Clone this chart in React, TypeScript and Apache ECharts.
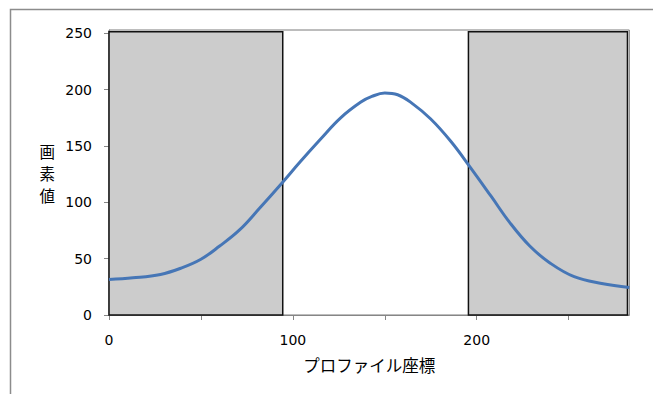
import React, { useEffect, useRef } from "react";
import * as echarts from "echarts";

const xCoords = [0, 13, 28, 39, 50, 60, 71, 82, 94, 104, 115, 126, 137, 143, 150, 157, 164, 175, 186, 197, 208, 218, 229, 240, 253, 268, 283];
const pixelValues = [31.5, 33, 36, 41.5, 49.5, 61, 75.5, 95, 117, 136, 156, 175, 189, 194, 197, 195.5, 189, 174, 154, 130, 105, 82, 61, 46, 34, 28, 24.5];
const bandStarts = [0, 195.5];
const bandEnds = [94.5, 282];
const bandTop = 251.5;
const xTickLabels = ["0", "100", "200"];
const yTickLabels = ["0", "50", "100", "150", "200", "250"];
const yNameChars = ["画", "素", "値"];

export default function App() {
  const ref = useRef<HTMLDivElement>(null);
  useEffect(() => {
    if (!ref.current) return;
    const chart = echarts.init(ref.current, undefined, { renderer: "svg" });
    const jp = "'Noto Sans CJK JP', 'Noto Sans', sans-serif";
    const num = "'DejaVu Sans', sans-serif";
    chart.setOption({
      animation: false,
      backgroundColor: "#fff",
      textStyle: { fontFamily: jp },
      graphic: [
        {
          type: "rect",
          shape: { x: 10.5, y: 9.5, width: 700, height: 500 },
          style: { fill: "none", stroke: "#8c8c8c", lineWidth: 1.5 },
          silent: true,
          z: -10,
        },
      ],
      grid: {
        left: 109,
        top: 30,
        right: 23.7,
        bottom: 79,
        show: true,
        borderColor: "#7a7a7a",
        borderWidth: 1,
      },
      xAxis: {
        type: "value",
        min: 0,
        max: 283,
        interval: 50,
        name: "プロファイル座標",
        nameLocation: "middle",
        nameGap: 42,
        nameTextStyle: { fontSize: 16.5, color: "#000", fontFamily: jp },
        axisLine: { show: true, lineStyle: { color: "#868686", width: 1 } },
        axisTick: { show: true, length: 5, lineStyle: { color: "#868686" } },
        splitLine: { show: false },
        axisLabel: {
          margin: 18,
          fontSize: 14,
          color: "#000",
          fontFamily: num,
          showMaxLabel: false,
          formatter: (v: number) => (xTickLabels.includes(String(v)) ? String(v) : ""),
        },
      },
      yAxis: {
        type: "value",
        min: 0,
        max: 253,
        interval: 50,
        name: yNameChars.join("\n"),
        nameLocation: "middle",
        nameRotate: 0,
        nameGap: 54,
        nameTextStyle: { fontSize: 15.5, color: "#000", lineHeight: 22, fontFamily: jp },
        axisLine: { show: true, lineStyle: { color: "#868686", width: 1 } },
        axisTick: { show: true, length: 5, lineStyle: { color: "#868686" } },
        splitLine: { show: false },
        axisLabel: {
          margin: 17,
          fontSize: 14,
          color: "#000",
          fontFamily: num,
          showMaxLabel: false,
          formatter: (v: number) => (yTickLabels.includes(String(v)) ? String(v) : ""),
        },
      },
      series: [
        {
          type: "line",
          data: xCoords.map((x, i) => [x, pixelValues[i]]),
          smooth: 0.4,
          showSymbol: false,
          clip: false,
          lineStyle: { color: "#4676b6", width: 3 },
          itemStyle: { color: "#4676b6" },
          markArea: {
            silent: true,
            itemStyle: { color: "#cccccc", borderColor: "#111", borderWidth: 1.5 },
            data: bandStarts.map((s, i) => [
              { xAxis: s, yAxis: 0 },
              { xAxis: bandEnds[i], yAxis: bandTop },
            ]),
          },
        },
      ],
    });
    return () => chart.dispose();
  }, []);
  return (
    <div
      ref={ref}
      style={{ position: "absolute", left: 0, top: 0, width: 653, height: 394 }}
    />
  );
}
